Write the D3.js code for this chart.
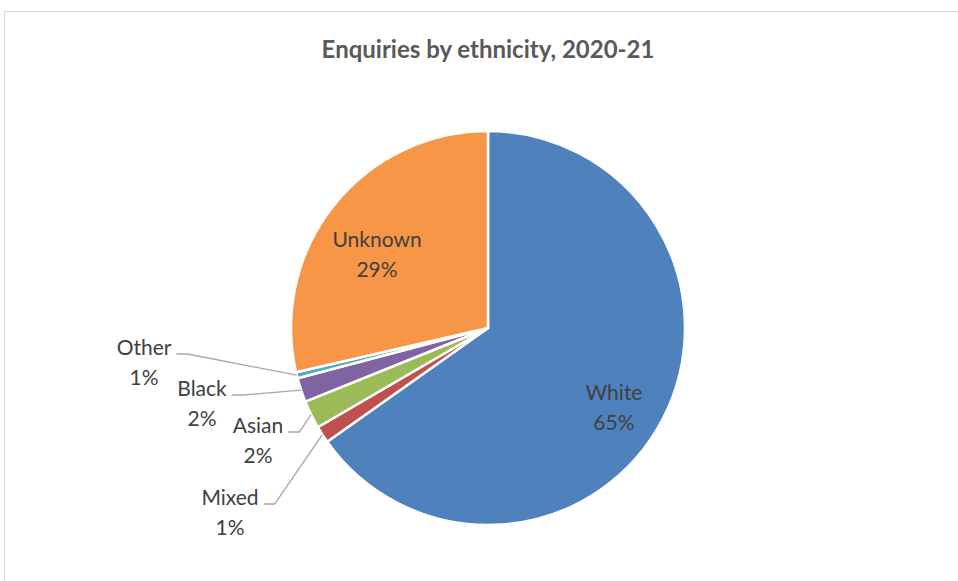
<!DOCTYPE html>
<html>
<head>
<meta charset="utf-8">
<style>
  body { margin: 0; background: #fff; }
  svg { display: block; }
</style>
</head>
<body>
<svg id="chart" width="958" height="581"></svg>
<script src="https://cdnjs.cloudflare.com/ajax/libs/d3/7.8.5/d3.min.js"></script>
<script>
// Enquiries by ethnicity, 2020-21 (share of enquiries, %)
const categories = ["White", "Mixed", "Asian", "Black", "Other", "Unknown"];
const shares = [65.2, 1.4, 2.3, 2.0, 0.5, 28.6];
const sliceColors = ["#4f81bd", "#c0504d", "#9bbb59", "#8064a2", "#4bacc6", "#f79646"];
const title = "Enquiries by ethnicity, 2020-21";

// label placement (relative to the pie centre) for the ones pushed outside
const outsideLabels = {
  Other: [-344, 20],
  Black: [-286, 61],
  Asian: [-230, 98],
  Mixed: [-258, 170]
};

const width = 958, height = 581;
const cx = 488, cy = 328, radius = 197;
const font = "Lato, 'Open Sans', sans-serif";

const svg = d3.select("#chart");

// chart area frame
svg.append("rect")
    .attr("x", 4.5).attr("y", 11.5)
    .attr("width", width + 10).attr("height", height + 10)
    .attr("fill", "#fff")
    .attr("stroke", "#d9d9d9");

svg.append("text")
    .attr("x", cx).attr("y", 58)
    .attr("text-anchor", "middle")
    .style("font", `bold 24px ${font}`)
    .attr("fill", "#595959")
    .text(title);

const data = categories.map((c, i) => ({ name: c, value: shares[i], color: sliceColors[i] }));
const total = d3.sum(shares);

const pie = d3.pie().sort(null).value(d => d.value);
const arcs = pie(data);
const arc = d3.arc().innerRadius(0).outerRadius(radius);
const rim = d3.arc().innerRadius(radius).outerRadius(radius);
const inner = d3.arc().innerRadius(radius * 0.72).outerRadius(radius * 0.72);

const g = svg.append("g").attr("transform", `translate(${cx},${cy})`);

g.selectAll("path.slice")
  .data(arcs)
  .join("path")
    .attr("class", "slice")
    .attr("d", arc)
    .attr("fill", d => d.data.color)
    .attr("stroke", "#fff")
    .attr("stroke-width", 2.5)
    .attr("stroke-linejoin", "round");

const pct = d => Math.round(d.data.value / total * 100) + "%";

// labels inside the big slices
arcs.filter(d => !outsideLabels[d.data.name]).forEach(d => {
  const [x, y] = inner.centroid(d);
  const t = g.append("text")
      .attr("text-anchor", "middle")
      .style("font", `21px ${font}`)
      .attr("fill", "#404040");
  t.append("tspan").attr("x", x).attr("y", y + 7).text(d.data.name);
  t.append("tspan").attr("x", x).attr("y", y + 37).text(pct(d));
});

// outside labels with leader lines
arcs.filter(d => outsideLabels[d.data.name]).forEach(d => {
  const [lx, ly] = outsideLabels[d.data.name];
  const t = g.append("text")
      .attr("text-anchor", "middle")
      .style("font", `21px ${font}`)
      .attr("fill", "#404040");
  const first = t.append("tspan").attr("x", lx).attr("y", ly + 7).text(d.data.name);
  t.append("tspan").attr("x", lx).attr("y", ly + 37).text(pct(d));
  const w = first.node().getComputedTextLength();
  const x0 = lx + w / 2 + 5;
  const [px, py] = rim.centroid(d);
  g.insert("polyline", "text")
      .attr("points", [[x0, ly + 6], [x0 + 11, ly + 6], [px, py]].map(p => p.join(",")).join(" "))
      .attr("fill", "none")
      .attr("stroke", "#a6a6a6")
      .attr("stroke-width", 1.3);
});
</script>
</body>
</html>
